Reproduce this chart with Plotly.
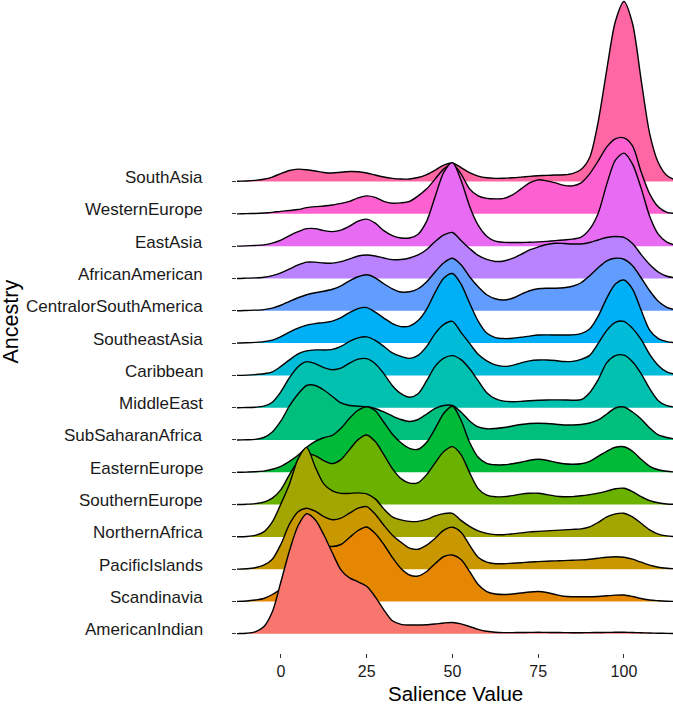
import plotly.graph_objects as go

# Salience value grid at which the ridge heights were read
salience = [-15, -12.5, -10, -7.5, -5, -2.5, 0, 2.5, 5, 7.5, 10, 12.5, 15, 17.5, 20, 22.5,
            25, 27.5, 30, 32.5, 35, 37.5, 40, 42.5, 45, 47.5, 50, 52.5, 55, 57.5, 60, 62.5,
            65, 67.5, 70, 72.5, 75, 77.5, 80, 82.5, 85, 87.5, 90, 92.5, 95, 97.5, 100, 102.5,
            105, 107.5, 110, 112.5, 115]

# Ancestry categories, bottom to top
ancestry = ["AmericanIndian", "Scandinavia", "PacificIslands", "NorthernAfrica",
            "SouthernEurope", "EasternEurope", "SubSaharanAfrica", "MiddleEast",
            "Caribbean", "SoutheastAsia", "CentralorSouthAmerica", "AfricanAmerican",
            "EastAsia", "WesternEurope", "SouthAsia"]

x_ticks = [0, 25, 50, 75, 100]

# Ridge heights (relative density, 32.3 units = one ridge spacing)
american_indian = [0, 0.2, 0.6, 2, 7, 22, 52, 83, 108, 120, 114, 99, 81, 64, 56, 52, 47.5, 37, 24, 13,
                   9.5, 8.8, 8.8, 9, 9.8, 10.8, 11.3, 10, 7.3, 4.5, 2.5, 1.5, 1.2, 1.2, 1.3, 1.4, 1.5,
                   1.4, 1.3, 1.2, 1.1, 1.1, 1.2, 1.3, 1.4, 1.5, 1.5, 1.3, 1, 0.8, 0.6, 0.4, 0.3]
scandinavia = [0, 0.1, 0.5, 1.5, 3, 7, 13, 25, 40, 52, 57, 56, 55, 57, 64, 71, 74.5, 68, 57, 44,
               33, 26.5, 25.5, 30, 38, 45, 46.5, 42, 30, 17, 10, 7.5, 7, 7.5, 8.5, 9.5, 10, 9, 7,
               5.2, 4.8, 4.8, 4.8, 5, 5.7, 6.4, 6.5, 5, 3, 1.5, 0.8, 0.3, 0.1]
pacific_islands = [0, 0.1, 0.5, 1.5, 4, 10, 25, 45, 57.5, 61, 58, 52.5, 49.5, 51, 56, 61, 62.5, 55,
                   44, 34, 27, 21, 20, 24, 31, 39, 42, 37, 24, 12, 7, 5.5, 5.5, 6, 6.5, 7.2, 7.6, 8,
                   8.3, 8.6, 9, 9.3, 10, 11, 12, 12.5, 12, 10, 7, 4, 2, 1, 0.4]
northern_africa = [0, 0.1, 0.4, 1.5, 5, 15, 33, 53, 78, 89.5, 70, 53, 46, 43.5, 43.5, 44, 43, 38,
                   28, 20, 17, 15.5, 15.5, 17.5, 21, 23.3, 23.6, 16.5, 10.5, 6, 3.5, 2.3, 2.2, 3, 4,
                   5, 5.5, 6, 6.5, 7, 7.5, 8, 10, 14.5, 20, 23, 23.6, 20, 13.6, 7, 2.8, 1, 0.3]
southern_europe = [0, 0.1, 0.4, 1, 2.5, 6.5, 15, 30, 43, 50, 49, 44, 41, 45, 55, 65, 69.6, 63, 50,
                   36, 26, 21.5, 22, 30, 42, 53, 58, 50, 32, 16, 9.5, 7.8, 8, 9, 10.5, 11.3, 11.3,
                   10, 8.5, 7.9, 8, 8.8, 10, 11.5, 13.5, 15.8, 16.3, 13, 8, 4, 1.8, 0.6, 0.2]
eastern_europe = [0, 0, 0.2, 0.5, 1.2, 3, 6, 11, 17, 25, 31, 34.5, 37, 44, 54, 62, 65.6, 61.5, 50,
                  38, 29.5, 24, 23, 30, 44, 59, 66, 52, 30, 15, 9, 7.5, 7.5, 8.5, 10, 12, 13, 12,
                  10, 8.5, 8, 8.5, 11, 16, 21, 25, 25.5, 21, 13, 6, 2.5, 1, 0.3]
sub_saharan_africa = [0, 0, 0.2, 0.6, 2.5, 8, 19, 34, 46, 54.5, 54.5, 50, 43.5, 37, 34.5, 33.8,
                      33.3, 31.5, 28, 24, 20.5, 18.5, 20.5, 26, 31.5, 34.5, 34.5, 28, 19, 13, 11.2,
                      11.5, 12.5, 14, 15.5, 16.5, 16.8, 16.5, 15.8, 15, 15, 15.5, 17, 20, 26, 32,
                      33, 28, 21, 12, 5, 2.5, 1]
middle_east = [0, 0, 0.2, 0.5, 1.5, 5.5, 16, 30, 41, 46, 44, 40, 38, 39.5, 44.5, 48.5, 49, 44, 34,
               22, 14, 10.5, 14, 27, 41.5, 49.5, 52, 48, 39, 27, 15, 9, 6.5, 6, 6.3, 7, 7.5, 7.7,
               7.8, 7.7, 7.5, 8, 15, 28, 45, 52, 52.5, 46, 34, 19, 7, 2, 0.5]
caribbean = [0, 0, 0.3, 0.8, 1.6, 3.5, 9, 15.5, 21.5, 24.5, 25.5, 25.4, 26, 29, 34, 37.5, 38.5, 35,
             29, 22.5, 19, 17, 20, 29, 42, 51, 54, 43, 32, 21, 14.5, 10.5, 9, 10, 12.5, 14.5,
             15.3, 15.4, 14.8, 13.8, 14, 16, 20, 32, 45, 53, 54, 47, 36, 21, 10, 3.5, 1]
southeast_asia = [0, 0, 0.3, 0.7, 1.4, 3, 6.5, 11, 15, 18, 19.5, 20.5, 22, 25.5, 30.5, 34.5, 35.5,
                  31, 25, 19.5, 16.5, 17, 22.5, 34, 51, 65, 69.5, 59, 40, 22, 10, 5.5, 4.5, 4.8,
                  5.8, 7, 8, 8.2, 8.1, 8, 8.2, 9.5, 14, 27, 45, 59, 63, 54, 33, 13, 4.5, 1.5, 0.4]
central_south_america = [0, 0, 0.3, 0.6, 1.2, 2.7, 5.5, 9.5, 13, 16, 18, 19.5, 21.5, 25, 30, 34,
                         36, 33, 27, 22, 18.8, 19, 22, 29, 39, 48, 52.5, 46, 34, 24, 16, 12, 10.8,
                         12.5, 16.5, 20, 22, 22.5, 22.5, 23, 24.5, 28, 35, 43, 50, 52.5, 51.5, 45,
                         33, 20, 9.5, 3.5, 1]
african_american = [0, 0, 0.3, 0.6, 1.2, 2.8, 5.5, 9.5, 13.5, 16.3, 16.3, 15.5, 15.3, 16.8, 19.5,
                    22.5, 23.5, 22.5, 20.5, 18.8, 19, 20.5, 23.5, 29, 37, 43.5, 46, 38, 30, 23, 19,
                    17, 17.5, 20, 24, 28.5, 31.5, 34, 35.2, 35, 34.5, 34.5, 36, 38.5, 41, 42, 41,
                    35, 24, 14, 6.5, 2.2, 0.6]
east_asia = [0, 0, 0.3, 0.7, 1.3, 3, 6, 10.5, 14.5, 17.5, 17.5, 15.5, 14.5, 16, 20, 25, 27, 23,
             15.5, 10.5, 8.2, 8.2, 12, 25, 50, 74, 83.5, 66, 40, 21, 10, 5, 3.8, 3.6, 3.7, 3.9,
             4.3, 4.8, 5.5, 6.2, 7, 9, 17, 33, 62, 86, 93, 82, 58, 30, 12, 4, 1]
western_europe = [0, 0, 0.2, 0.4, 0.8, 1.5, 2.5, 3.4, 4.3, 6.2, 7.2, 7.8, 8.8, 10.5, 12.5, 16, 18,
                  16.5, 12.5, 10.6, 11, 12.5, 18, 25, 35, 45, 50, 40, 25, 18, 15.5, 15, 15.5, 19,
                  25, 31, 34, 33, 31, 28.5, 28, 31, 40, 53, 67, 75, 76, 68, 42, 20, 7, 1.5, 0.5]
south_asia = [0, 0.3, 0.6, 1.2, 2.3, 4.5, 8, 11, 12.4, 11.8, 10.6, 9, 8.5, 9.3, 10, 9.8, 8.6, 6.5,
              4.5, 3.2, 2.5, 2.6, 4, 7, 11.5, 16.5, 18.5, 14, 9, 5.5, 3.8, 3.2, 3.3, 3.8, 4.4, 5.2,
              5.8, 6.2, 6.5, 6.8, 8, 12, 24, 60, 112, 160, 180, 158, 102, 48, 19, 6, 1.5]

ridge_heights = [american_indian, scandinavia, pacific_islands, northern_africa, southern_europe,
                 eastern_europe, sub_saharan_africa, middle_east, caribbean, southeast_asia,
                 central_south_america, african_american, east_asia, western_europe, south_asia]

colors = ["#F8766D", "#E58700", "#C99800", "#A3A500", "#6BB100", "#00BA38", "#00BF7D",
          "#00C0AF", "#00BCD8", "#00B0F6", "#619CFF", "#B983FF", "#E76BF3", "#FD61D1", "#FF67A4"]

row_scale = 32.3
FONT = "Liberation Sans, Arial, Helvetica, sans-serif"
PLOT_H = 653.0

fig = go.Figure()
# draw from the top ridge down, so lower ridges overlap upper ones
for i in reversed(range(len(ancestry))):
    h = ridge_heights[i]
    fig.add_trace(go.Scatter(x=salience, y=[i] * len(salience), mode="lines",
                             line=dict(width=0, color="rgba(0,0,0,0)"),
                             showlegend=False, hoverinfo="skip"))
    fig.add_trace(go.Scatter(x=salience, y=[i + v / row_scale for v in h], mode="lines",
                             line=dict(color="black", width=1.4, shape="spline", smoothing=0.8),
                             fill="tonexty", fillcolor=colors[i], name=ancestry[i],
                             showlegend=False))

annotations = []
for i, name in enumerate(ancestry):
    annotations.append(dict(text=name, xref="paper", x=0, xanchor="right", xshift=-32,
                            yref="y", y=i, yanchor="middle", yshift=4, showarrow=False,
                            font=dict(size=17, color="#1a1a1a", family=FONT)))
annotations.append(dict(text="Ancestry", textangle=-90, xref="paper", x=(10 - 237) / 436.0,
                        xanchor="center", yref="paper", y=(PLOT_H - 321.5) / PLOT_H,
                        yanchor="middle", showarrow=False,
                        font=dict(size=21.5, color="black", family=FONT)))
annotations.append(dict(text="Salience Value", xref="paper", x=0.5, xanchor="center",
                        yref="paper", y=(PLOT_H - 693.5) / PLOT_H, yanchor="middle",
                        showarrow=False, font=dict(size=20.5, color="black", family=FONT)))

fig.update_layout(
    width=673, height=705,
    margin=dict(l=237, r=0, t=0, b=52, pad=0),
    plot_bgcolor="white", paper_bgcolor="white",
    font=dict(family=FONT, color="black"),
    xaxis=dict(range=[-12.8, 114.3], tickvals=x_ticks,
               ticks="outside", ticklen=4, tickwidth=1, tickcolor="#333333",
               showgrid=False, zeroline=False, showline=False,
               tickfont=dict(size=16, color="#1a1a1a")),
    yaxis=dict(range=[-0.594, 19.62], tickvals=list(range(len(ancestry))),
               ticktext=[""] * len(ancestry),
               ticks="outside", ticklen=4, tickwidth=1, tickcolor="#333333",
               showgrid=False, zeroline=False, showline=False),
    annotations=annotations,
)

fig.write_html("out.html", config={"displayModeBar": False},
               post_script="document.body.style.margin='0';document.body.style.padding='0';"
                           "document.body.style.overflow='hidden';")
